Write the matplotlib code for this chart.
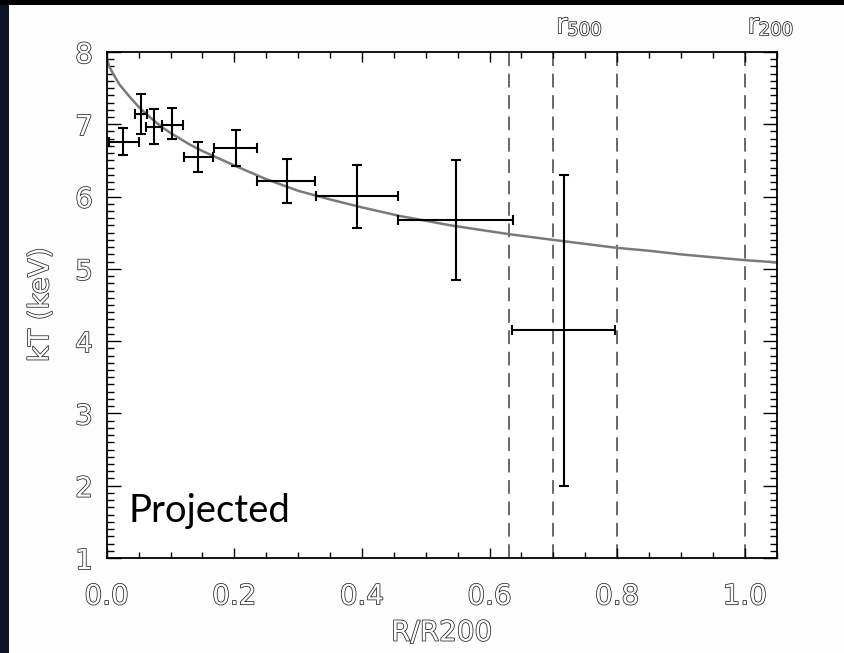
import matplotlib.pyplot as plt
import matplotlib.patheffects as pe
from matplotlib.patches import Rectangle
from matplotlib.ticker import MultipleLocator

plt.rcParams['savefig.transparent'] = False

# temperature profile points (R/R200, kT in keV) with asymmetric errors
r_mid = [0.026, 0.053, 0.0735, 0.103, 0.143, 0.202, 0.282, 0.392, 0.547, 0.716]
r_lo = [0.004, 0.044, 0.061, 0.086, 0.121, 0.168, 0.235, 0.3275, 0.456, 0.635]
r_hi = [0.051, 0.0626, 0.086, 0.120, 0.167, 0.235, 0.327, 0.456, 0.636, 0.797]
kt = [6.75, 7.145, 6.96, 6.99, 6.55, 6.67, 6.22, 6.01, 5.67, 4.15]
kt_lo = [6.57, 6.865, 6.73, 6.79, 6.34, 6.42, 5.91, 5.57, 4.84, 1.99]
kt_hi = [6.95, 7.42, 7.21, 7.22, 6.76, 6.92, 6.52, 6.43, 6.50, 6.30]

# model curve
model_r = [0.0, 0.004, 0.01, 0.02, 0.035, 0.05, 0.07, 0.085, 0.1, 0.115, 0.13, 0.15,
           0.175, 0.2, 0.25, 0.3, 0.35, 0.4, 0.46, 0.54, 0.63, 0.7, 0.8, 0.85, 0.9,
           1.0, 1.05]
model_kt = [7.92, 7.80, 7.70, 7.55, 7.39, 7.24, 7.08, 6.97, 6.88, 6.80, 6.72, 6.63,
            6.53, 6.43, 6.24, 6.08, 5.96, 5.85, 5.73, 5.60, 5.48, 5.40, 5.29, 5.25,
            5.20, 5.12, 5.09]

# vertical markers
vlines = [0.63, 0.70, 0.80, 1.0]
radius_labels = [(0.70, '500'), (1.0, '200')]

x_ticks = [0.0, 0.2, 0.4, 0.6, 0.8, 1.0]
y_ticks = [1, 2, 3, 4, 5, 6, 7, 8]

# thin outlined lettering, like the vector font of the original
hollow = [pe.withStroke(linewidth=1.1, foreground='#222222')]
label_fill = '#fdfdfd'

fig = plt.figure(figsize=(8.45, 6.53), dpi=100, facecolor='#fdfdfd')

# page background: light page, dark strip left, black band on top
bg = fig.add_axes([0, 0, 1, 1], zorder=-5)
bg.set_xlim(0, 845)
bg.set_ylim(0, 653)
bg.axis('off')
bg.add_patch(Rectangle((0, 0), 845, 653, facecolor='#fdfdfd', edgecolor='none'))
bg.add_patch(Rectangle((0, 0), 9, 653, facecolor='#0c1329', edgecolor='none'))
bg.add_patch(Rectangle((0, 648), 845, 5, facecolor='black', edgecolor='none'))

ax = fig.add_axes([0.1263, 0.1455, 0.7929, 0.7749])

ax.plot(model_r, model_kt, color='#7a7a7a', linewidth=1.8, zorder=2)

for v in vlines:
    ax.axvline(v, color='#404040', linewidth=1.1, linestyle=(0, (9, 5)), zorder=1)

xerr = [[m - lo for m, lo in zip(r_mid, r_lo)], [hi - m for m, hi in zip(r_mid, r_hi)]]
yerr = [[m - lo for m, lo in zip(kt, kt_lo)], [hi - m for m, hi in zip(kt, kt_hi)]]
ax.errorbar(r_mid, kt, xerr=xerr, yerr=yerr, fmt='none', ecolor='black',
            elinewidth=1.5, capsize=3.4, capthick=1.5, zorder=3)

ax.set_xlim(0, 1.05)
ax.set_ylim(1, 8)
ax.set_xticks(x_ticks)
ax.set_xticklabels([f'{t:.1f}' for t in x_ticks])
ax.set_yticks(y_ticks)
ax.set_yticklabels([str(t) for t in y_ticks])
ax.xaxis.set_minor_locator(MultipleLocator(0.05))
ax.yaxis.set_minor_locator(MultipleLocator(0.1))

ax.tick_params(which='both', direction='in', top=True, right=True, width=1.0,
               labelsize=20, labelcolor=label_fill)
ax.tick_params(axis='x', which='major', length=7.5, pad=17.5)
ax.tick_params(axis='x', which='minor', length=4.3)
ax.tick_params(axis='y', which='major', length=10, pad=10)
ax.tick_params(axis='y', which='minor', length=5)
for lab in ax.get_xticklabels() + ax.get_yticklabels():
    lab.set_path_effects(hollow)
for s in ax.spines.values():
    s.set_linewidth(1.3)

ax.set_xlabel('R/R200', fontsize=20, color=label_fill, labelpad=6, path_effects=hollow)
ax.set_ylabel('kT (keV)', fontsize=20, color=label_fill, labelpad=15, path_effects=hollow)

ax.text(0.032, 0.071, 'Projected', transform=ax.transAxes, fontsize=27.5,
        family='Lato', color='black', va='baseline', ha='left')

for xr, sub in radius_labels:
    ax.annotate('r', xy=(xr, 1.037), xycoords=('data', 'axes fraction'),
                xytext=(2, 0), textcoords='offset points', fontsize=20,
                color=label_fill, va='baseline', ha='left', path_effects=hollow,
                annotation_clip=False)
    ax.annotate(sub, xy=(xr, 1.033), xycoords=('data', 'axes fraction'),
                xytext=(10, 0), textcoords='offset points', fontsize=13,
                color=label_fill, va='baseline', ha='left', path_effects=hollow,
                annotation_clip=False)

fig.savefig('out.png', dpi=100, facecolor=fig.get_facecolor())
